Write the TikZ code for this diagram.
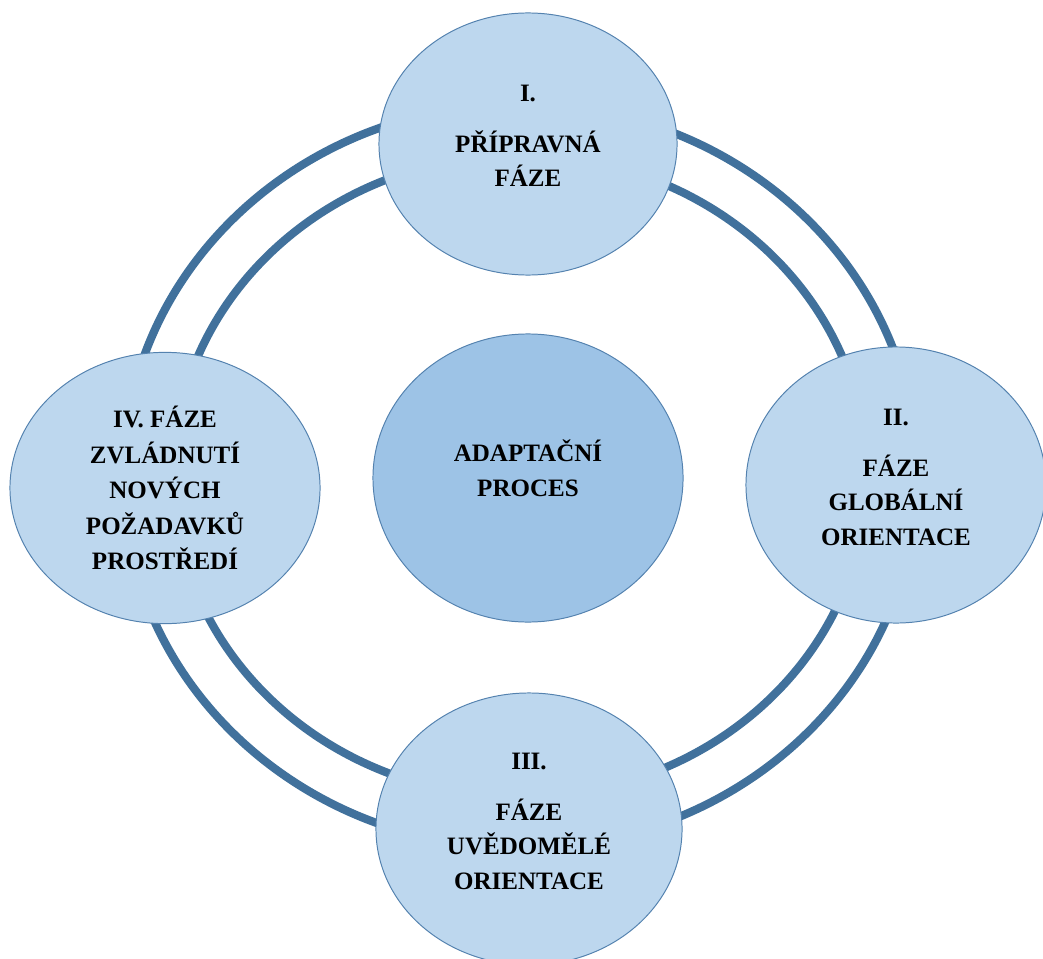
\documentclass[tikz,border=0pt]{standalone}
\usepackage{fontspec}
\setmainfont{Liberation Serif}
\usetikzlibrary{shapes.geometric}

\definecolor{ringblue}{RGB}{65,113,156}
\definecolor{phasefill}{RGB}{189,215,238}
\definecolor{corefill}{RGB}{157,195,230}
\definecolor{phaseline}{RGB}{84,130,175}

\tikzset{
  ring/.style={draw=ringblue, line width=5.8pt},
  phase/.style={ellipse, draw=phaseline, line width=0.7pt, fill=phasefill,
    align=center, inner sep=0pt, minimum width=7.6cm, minimum height=6.8cm,
    font=\bfseries\fontsize{17.8}{24.4}\selectfont, text depth=0.4cm},
  core/.style={phase, fill=corefill, minimum width=7.75cm, minimum height=7.2cm,
    text depth=0.5cm}
}

\begin{document}
\begin{tikzpicture}[x=0.025cm, y=-0.025cm]
    \useasboundingbox (0,0) rectangle (1043,958);

    % double ring round the centre
    \coordinate (mid) at (520,476);
    \draw [ring] (mid) ellipse [x radius=397, y radius=372];
    \draw [ring] (mid) ellipse [x radius=347, y radius=321];

    % centre
    \node [core] (proces) at (528,478) {ADAPTAČNÍ\\PROCES};

    % the four phases, clockwise from the top
    \node [phase, minimum width=7.45cm, minimum height=6.55cm] (faze1) at (528,144)
        {I.\\[12pt]PŘÍPRAVNÁ\\FÁZE};
    \node [phase, minimum width=7.5cm, minimum height=6.9cm] (faze2) at (896,485)
        {II.\\[12pt]FÁZE\\GLOBÁLNÍ\\ORIENTACE};
    \node [phase, minimum width=7.65cm] (faze3) at (529,829)
        {III.\\[12pt]FÁZE\\UVĚDOMĚLÉ\\ORIENTACE};
    \node [phase, minimum width=7.75cm, minimum height=6.78cm, text depth=0pt,
        font=\bfseries\fontsize{17.8}{25.2}\selectfont] (faze4) at (165,488)
        {IV. FÁZE\\ZVLÁDNUTÍ\\NOVÝCH\\POŽADAVKŮ\\PROSTŘEDÍ};

\end{tikzpicture}
\end{document}
